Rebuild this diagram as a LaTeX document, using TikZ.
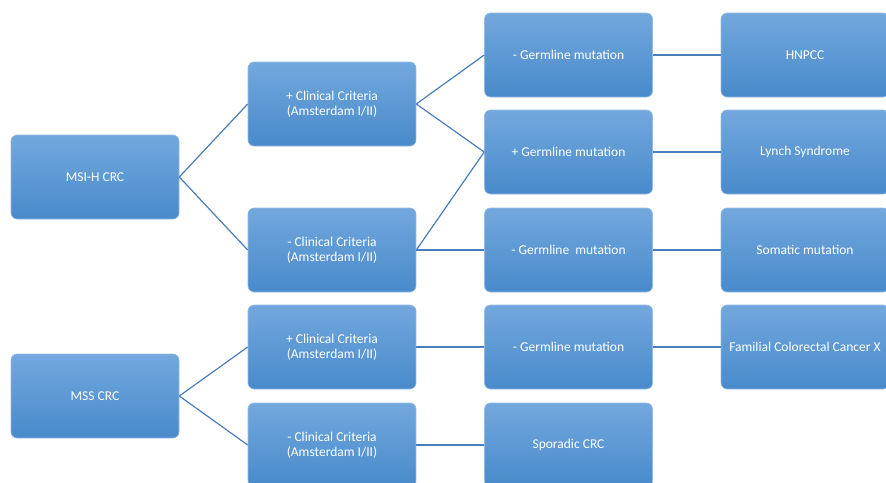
\documentclass[tikz,border=0pt]{standalone}
\usepackage{fontspec}
\setmainfont{Carlito}
\usetikzlibrary{positioning}

\definecolor{boxtop}{RGB}{114,168,221}
\definecolor{boxmid}{RGB}{92,156,218}
\definecolor{boxbot}{RGB}{72,138,203}
\definecolor{boxrim}{RGB}{150,186,228}
\definecolor{linkblue}{RGB}{74,126,187}

\begin{document}
\begin{tikzpicture}[x=1pt,y=-1pt,
    box/.style={rectangle,rounded corners=6pt,draw=boxrim,line width=0.6pt,
      top color=boxtop,middle color=boxmid,bottom color=boxbot,
      minimum width=168pt,minimum height=84pt,inner sep=0pt,align=center,
      text=white,font=\fontsize{13.5}{15.5}\selectfont},
    link/.style={draw=linkblue,line width=1.2pt}]
					\useasboundingbox (0,0) rectangle (886,482);
					\clip (0,0) rectangle (886,482);

					%% first level
					\node[box] (msih) at (95,177) {MSI-H CRC};
					\node[box] (mss) at (95,396) {MSS CRC};

					%% clinical criteria
					\node[box] (hpos) at (332,104) {+ Clinical Criteria\\(Amsterdam I/II)};
					\node[box] (hneg) at (332,250) {- Clinical Criteria\\(Amsterdam I/II)};
					\node[box] (spos) at (332,347) {+ Clinical Criteria\\(Amsterdam I/II)};
					\node[box] (sneg) at (332,445) {- Clinical Criteria\\(Amsterdam I/II)};

					%% germline
					\node[box] (gneg1) at (568.5,55) {- Germline mutation};
					\node[box] (gpos) at (568.5,152) {+ Germline mutation};
					\node[box] (gneg2) at (568.5,250) {- Germline\ \ mutation};
					\node[box] (gneg3) at (568.5,347) {- Germline mutation};
					\node[box] (spor) at (568.5,445) {Sporadic CRC};

					%% outcomes
					\node[box] (hnpcc) at (805,55) {HNPCC};
					\node[box] (lynch) at (805,152) {Lynch Syndrome};
					\node[box] (soma) at (805,250) {Somatic mutation};
					\node[box] (fccx) at (805,347) {Familial Colorectal Cancer X};

					\draw[link] (msih.east) -- (hpos.west);
					\draw[link] (msih.east) -- (hneg.west);
					\draw[link] (mss.east) -- (spos.west);
					\draw[link] (mss.east) -- (sneg.west);

					\draw[link] (hpos.east) -- (gneg1.west);
					\draw[link] (hpos.east) -- (gpos.west);
					\draw[link] (hneg.east) -- (gpos.west);
					\draw[link] (hneg.east) -- (gneg2.west);
					\draw[link] (spos.east) -- (gneg3.west);
					\draw[link] (sneg.east) -- (spor.west);

					\draw[link] (gneg1.east) -- (hnpcc.west);
					\draw[link] (gpos.east) -- (lynch.west);
					\draw[link] (gneg2.east) -- (soma.west);
					\draw[link] (gneg3.east) -- (fccx.west);
				\end{tikzpicture}
\end{document}
